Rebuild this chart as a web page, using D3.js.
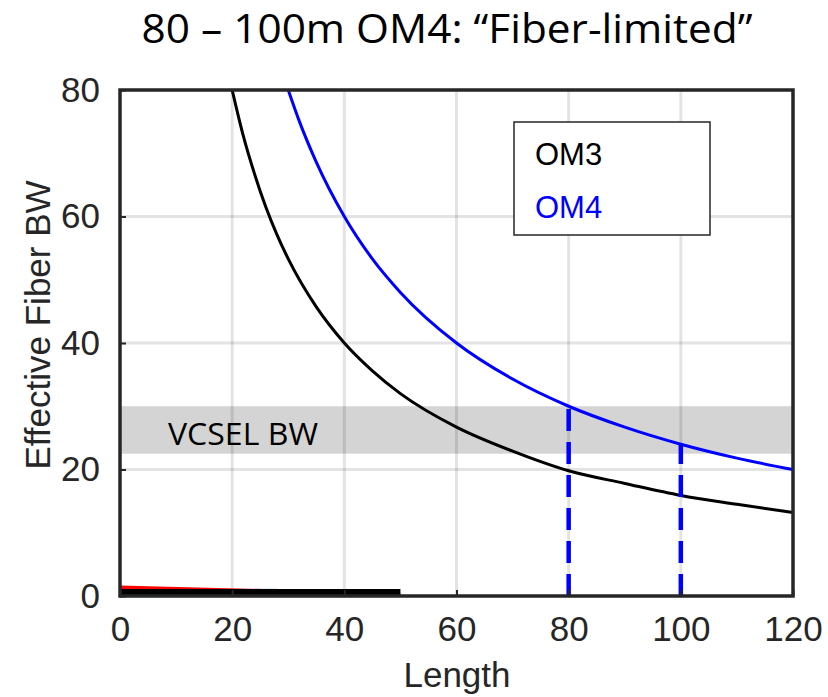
<!DOCTYPE html>
<html>
<head>
<meta charset="utf-8">
<script src="https://cdn.jsdelivr.net/npm/d3@7"></script>
<style>
  body { margin: 0; background: #fff; }
  svg { display: block; }
</style>
</head>
<body>
<div class="canvas"></div>
<script>
// values
const om3Length = [20, 22, 24, 26, 28, 30, 35, 40, 45, 50, 60, 70, 80, 90, 100, 110, 120];
const om3BW     = [80, 72.7, 66.7, 61.5, 57.1, 53.3, 45.7, 40, 35.6, 32, 26.7, 22.9, 19.8, 17.8, 15.9, 14.5, 13.2];
const om4Length = [30, 32, 35, 40, 45, 50, 60, 70, 80, 90, 100, 110, 120];
const om4BW     = [80, 75, 68.6, 60, 53.3, 48, 40, 34.3, 30, 26.7, 24, 21.8, 20];
const vcselBand = [22.5, 30];
const markLengths = [80, 100];
const xTicks = [0, 20, 40, 60, 80, 100, 120];
const yTicks = [0, 20, 40, 60, 80];
const legendNames = ['OM3', 'OM4'];

const axisColor = '#262626';
const om3Color = '#000000';
const om4Color = '#0000ff';

const svg = d3.select('.canvas')
    .append('svg')
    .attr('width', 828)
    .attr('height', 697);

const margin = { top: 90, left: 120, right: 35, bottom: 101 };
const graphWidth = 828 - margin.left - margin.right;
const graphHeight = 697 - margin.top - margin.bottom;

const graph = svg.append('g')
    .attr('transform', `translate(${margin.left},${margin.top})`);

const x = d3.scaleLinear().domain([0, 120]).range([0, graphWidth]);
const y = d3.scaleLinear().domain([0, 80]).range([graphHeight, 0]);

// title
svg.append('text')
    .attr('x', 447)
    .attr('y', 43)
    .attr('text-anchor', 'middle')
    .attr('font-family', '"Open Sans", sans-serif')
    .attr('font-size', 41)
    .attr('textLength', 611)
    .attr('lengthAdjust', 'spacingAndGlyphs')
    .text('80 \u2013 100m OM4: \u201cFiber-limited\u201d');

// VCSEL band
graph.append('rect')
    .attr('x', 0)
    .attr('width', graphWidth)
    .attr('y', y(vcselBand[1]))
    .attr('height', y(vcselBand[0]) - y(vcselBand[1]))
    .attr('fill', '#d4d4d4');

// grid
graph.append('g').selectAll('line')
    .data(xTicks.slice(1, -1))
    .enter().append('line')
    .attr('x1', d => x(d)).attr('x2', d => x(d))
    .attr('y1', 0).attr('y2', graphHeight)
    .attr('stroke', '#000').attr('stroke-opacity', 0.11).attr('stroke-width', 3);

graph.append('g').selectAll('line')
    .data(yTicks.slice(1, -1))
    .enter().append('line')
    .attr('y1', d => y(d)).attr('y2', d => y(d))
    .attr('x1', 0).attr('x2', graphWidth)
    .attr('stroke', '#000').attr('stroke-opacity', 0.11).attr('stroke-width', 3);

svg.append('text')
    .attr('x', 168)
    .attr('y', 445)
    .attr('font-family', '"Open Sans", sans-serif')
    .attr('font-size', 31)
    .attr('textLength', 150)
    .attr('lengthAdjust', 'spacingAndGlyphs')
    .text('VCSEL BW');

// curves
const line = d3.line()
    .x(d => x(d[0]))
    .y(d => y(d[1]))
    .curve(d3.curveMonotoneX);

graph.append('path')
    .datum(d3.zip(om3Length, om3BW))
    .attr('d', line)
    .attr('fill', 'none')
    .attr('stroke', om3Color)
    .attr('stroke-width', 3);

graph.append('path')
    .datum(d3.zip(om4Length, om4BW))
    .attr('d', line)
    .attr('fill', 'none')
    .attr('stroke', om4Color)
    .attr('stroke-width', 3);

// dashed markers up to the OM4 curve
graph.append('g').selectAll('line')
    .data(markLengths)
    .enter().append('line')
    .attr('x1', d => x(d)).attr('x2', d => x(d))
    .attr('y1', y(0))
    .attr('y2', d => y(om4BW[om4Length.indexOf(d)]))
    .attr('stroke', om4Color)
    .attr('stroke-width', 4.5)
    .attr('stroke-dasharray', '22,11');

// stray traces along the bottom
graph.append('line')
    .attr('x1', x(0)).attr('x2', x(28))
    .attr('y1', y(1.0)).attr('y2', y(1.0))
    .attr('stroke', om4Color).attr('stroke-opacity', 0.35).attr('stroke-width', 2);
graph.append('line')
    .attr('x1', x(0)).attr('x2', x(50))
    .attr('y1', y(1.4)).attr('y2', y(0.25))
    .attr('stroke', '#ff0000').attr('stroke-width', 3.5);
graph.append('line')
    .attr('x1', x(0)).attr('x2', x(50))
    .attr('y1', y(0.65)).attr('y2', y(0.65))
    .attr('stroke', om3Color).attr('stroke-width', 6);

// box
graph.append('rect')
    .attr('x', 0).attr('y', 0)
    .attr('width', graphWidth).attr('height', graphHeight)
    .attr('fill', 'none')
    .attr('stroke', axisColor)
    .attr('stroke-width', 3.5);

// axes with inward ticks
const xAxis = d3.axisBottom(x).tickValues(xTicks).tickSizeInner(-6).tickSizeOuter(0).tickPadding(20);
const yAxis = d3.axisLeft(y).tickValues(yTicks).tickSizeInner(-6).tickSizeOuter(0).tickPadding(20);

const xAxisGroup = graph.append('g')
    .attr('transform', `translate(0,${graphHeight})`)
    .call(xAxis);
const yAxisGroup = graph.append('g').call(yAxis);

[xAxisGroup, yAxisGroup].forEach(g => {
    g.select('.domain').remove();
    g.selectAll('line').attr('stroke', axisColor).attr('stroke-width', 2);
    g.selectAll('text')
        .attr('fill', axisColor)
        .attr('font-family', '"Liberation Sans", Arial, sans-serif')
        .attr('font-size', 35);
});
xAxisGroup.selectAll('text').attr('dy', '0.71em');

// axis titles
svg.append('text')
    .attr('x', 457)
    .attr('y', 687)
    .attr('text-anchor', 'middle')
    .attr('fill', axisColor)
    .attr('font-family', '"Liberation Sans", Arial, sans-serif')
    .attr('font-size', 35)
    .text('Length');

svg.append('text')
    .attr('transform', 'translate(50,325) rotate(-90)')
    .attr('text-anchor', 'middle')
    .attr('fill', axisColor)
    .attr('font-family', '"Liberation Sans", Arial, sans-serif')
    .attr('font-size', 35)
    .text('Effective Fiber BW');

// legend
const legend = svg.append('g');
legend.append('rect')
    .attr('x', 514).attr('y', 122)
    .attr('width', 196).attr('height', 113)
    .attr('fill', '#fff')
    .attr('stroke', axisColor)
    .attr('stroke-width', 1.5);
legend.selectAll('text')
    .data(legendNames)
    .enter().append('text')
    .attr('x', 535)
    .attr('y', (d, i) => 165 + i * 53)
    .attr('fill', (d, i) => i === 0 ? om3Color : om4Color)
    .attr('font-family', '"Liberation Sans", Arial, sans-serif')
    .attr('font-size', 31)
    .text(d => d);
</script>
</body>
</html>
